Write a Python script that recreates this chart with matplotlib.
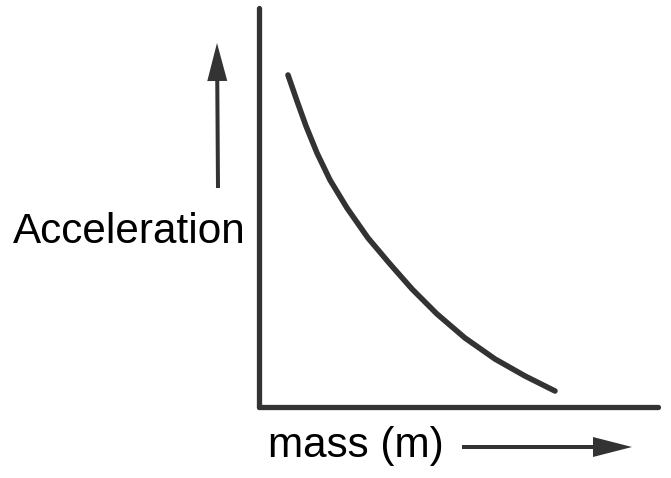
import matplotlib
matplotlib.use("Agg")
from matplotlib import pyplot as plt
from matplotlib import transforms as mtransforms
from matplotlib.patches import FancyArrow

# curve (arbitrary units, axes span 0..~10)
mass = [0.725, 0.95, 1.175, 1.45, 1.775, 2.2, 2.725, 3.275, 3.825,
        4.45, 5.15, 5.9, 6.65, 7.4]
accel = [8.3, 7.65, 7.025, 6.35, 5.675, 4.975, 4.225, 3.575, 2.95,
         2.325, 1.725, 1.2, 0.775, 0.4]

x_label = "mass (m)"
y_label = "Acceleration"

ink = "#333333"
W, H = 671, 478

fig = plt.figure(figsize=(W / 100, H / 100), dpi=100)
ax = fig.add_axes([259 / W, (H - 407) / H, (658 - 259) / W, (407 - 8) / H])
ax.plot(mass, accel, color=ink, lw=4, solid_capstyle="round",
        solid_joinstyle="round")
ax.set_xlim(0, 9.975)
ax.set_ylim(0, 9.975)
ax.set_xticks([])
ax.set_yticks([])
for side in ("top", "right"):
    ax.spines[side].set_visible(False)
for side in ("left", "bottom"):
    ax.spines[side].set_color(ink)
    ax.spines[side].set_linewidth(3.8)
    ax.spines[side].set_capstyle("round")
ax.patch.set_visible(False)

px = mtransforms.IdentityTransform()
# up arrow next to the y label
fig.add_artist(FancyArrow(218, H - 188, -1, 188 - 43, width=4, head_width=20,
                          head_length=38, length_includes_head=True,
                          color=ink, lw=0, transform=px))
# right arrow next to the x label
fig.add_artist(FancyArrow(462, H - 447, 632 - 462, 0, width=4, head_width=20,
                          head_length=39, length_includes_head=True,
                          color=ink, lw=0, transform=px))

font = dict(family="Liberation Sans", fontsize=30.4, color="black")
fig.text(13, H - 243, y_label, ha="left", va="baseline", transform=px, **font)
fig.text(268, H - 457, x_label, ha="left", va="baseline", transform=px, **font)

fig.savefig("out.png", dpi=100)
